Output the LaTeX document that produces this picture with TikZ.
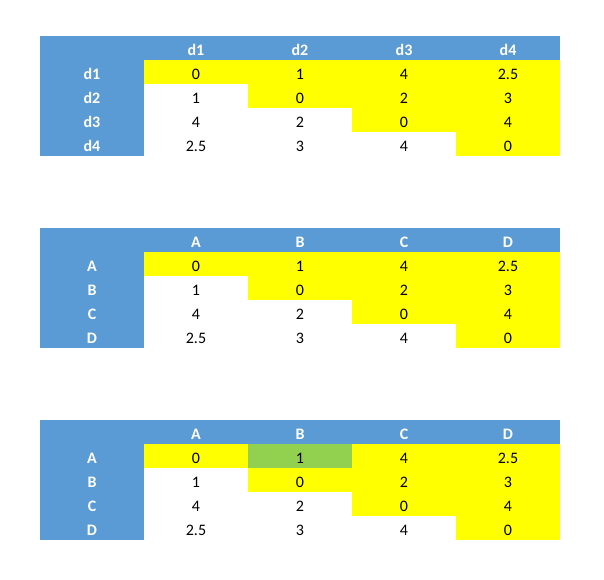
\documentclass[tikz,border=0pt]{standalone}
\usepackage{fontspec}
\setmainfont{Carlito}
\definecolor{hdrblue}{HTML}{5B9BD5}
\definecolor{cellyellow}{HTML}{FFFF00}
\definecolor{cellgreen}{HTML}{92D050}
\tikzset{
  cell/.style={anchor=north west, minimum width=104pt, minimum height=24pt, inner sep=0pt, outer sep=0pt,
    text height=19pt, text depth=5pt,
    font=\fontsize{16}{18}\selectfont, text=black},
  hdr/.style={cell, fill=hdrblue, text=white, font=\fontsize{16}{18}\selectfont\bfseries},
  ycell/.style={cell, fill=cellyellow},
  gcell/.style={cell, fill=cellgreen},
  wcell/.style={cell}
}
\begin{document}
\begin{tikzpicture}[x=1pt,y=-1pt]
\useasboundingbox (0,0) rectangle (604,579);
\fill[white] (0,0) rectangle (604,579);
\foreach \t/\top/\labs in {1/36/{d1,d2,d3,d4}, 2/228/{A,B,C,D}, 3/420/{A,B,C,D}} {
  \node[hdr] (t\t-h0) at (40,\top) {};
  \foreach \l [count=\i] in \labs {
    \node[hdr] (t\t-h\i) at ({40+104*\i},\top) {\l};
    \node[hdr] (t\t-r\i) at (40,{\top+24*\i}) {\l};
  }
  \foreach \row/\vals in {1/{0,1,4,2.5}, 2/{1,0,2,3}, 3/{4,2,0,4}, 4/{2.5,3,4,0}} {
    \foreach \v [count=\c] in \vals {
      \pgfmathtruncatemacro{\isy}{\c>=\row ? 1 : 0}
      \pgfmathtruncatemacro{\isg}{(\t==3 && \row==1 && \c==2) ? 1 : 0}
      \ifnum\isg=1
        \node[gcell] (t\t-c\row-\c) at ({40+104*\c},{\top+24*\row}) {\v};
      \else\ifnum\isy=1
        \node[ycell] (t\t-c\row-\c) at ({40+104*\c},{\top+24*\row}) {\v};
      \else
        \node[wcell] (t\t-c\row-\c) at ({40+104*\c},{\top+24*\row}) {\v};
      \fi\fi
    }
  }
}
\end{tikzpicture}
\end{document}
